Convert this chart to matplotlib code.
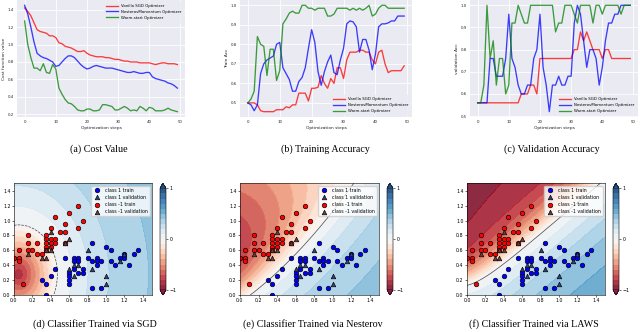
import numpy as np
import matplotlib
matplotlib.use("Agg")
import matplotlib.pyplot as plt

# ---------------- data: optimisation curves ----------------
steps = list(range(50))
labels_opt = ["Vanilla SGD Optimizer", "NesterovMomentum Optimizer", "Warm-start Optimizer"]

cost_sgd = [1.42, 1.38, 1.33, 1.25, 1.17, 1.15, 1.14, 1.13, 1.10, 1.10,
            1.08, 1.02, 1.01, 0.98, 0.97, 0.96, 0.94, 0.92, 0.92, 0.93,
            0.90, 0.88, 0.87, 0.86, 0.86, 0.86, 0.85, 0.85, 0.84, 0.83,
            0.83, 0.82, 0.81, 0.81, 0.80, 0.80, 0.80, 0.79, 0.79, 0.79,
            0.79, 0.78, 0.77, 0.78, 0.79, 0.79, 0.78, 0.78, 0.78, 0.77]
cost_nes = [1.45, 1.35, 1.20, 1.03, 0.90, 0.87, 0.85, 0.84, 0.82, 0.80,
            0.75, 0.76, 0.80, 0.84, 0.87, 0.87, 0.85, 0.81, 0.77, 0.74,
            0.72, 0.73, 0.75, 0.76, 0.75, 0.74, 0.73, 0.73, 0.73, 0.72,
            0.71, 0.70, 0.69, 0.68, 0.68, 0.69, 0.68, 0.67, 0.67, 0.68,
            0.68, 0.63, 0.61, 0.60, 0.59, 0.58, 0.56, 0.55, 0.53, 0.50]
cost_warm = [1.27, 1.00, 0.85, 0.73, 0.73, 0.70, 0.78, 0.68, 0.67, 0.77,
             0.72, 0.50, 0.43, 0.37, 0.33, 0.32, 0.29, 0.25, 0.24, 0.24,
             0.26, 0.26, 0.24, 0.24, 0.25, 0.31, 0.31, 0.30, 0.29, 0.25,
             0.25, 0.27, 0.29, 0.27, 0.24, 0.25, 0.24, 0.29, 0.27, 0.24,
             0.28, 0.27, 0.24, 0.24, 0.24, 0.25, 0.27, 0.25, 0.24, 0.23]

train_sgd = [0.50, 0.50, 0.50, 0.49, 0.46, 0.455, 0.455, 0.455, 0.455, 0.465,
             0.465, 0.465, 0.48, 0.475, 0.49, 0.49, 0.55, 0.55, 0.55, 0.51,
             0.575, 0.575, 0.58, 0.64, 0.60, 0.575, 0.625, 0.60, 0.68, 0.68,
             0.625, 0.72, 0.76, 0.76, 0.76, 0.77, 0.77, 0.76, 0.76, 0.72,
             0.70, 0.76, 0.77, 0.70, 0.655, 0.665, 0.665, 0.665, 0.665, 0.69]
train_nes = [0.50, 0.49, 0.46, 0.49, 0.65, 0.70, 0.72, 0.73, 0.74, 0.80,
             0.81, 0.68, 0.65, 0.62, 0.56, 0.56, 0.61, 0.63, 0.68, 0.78,
             0.875, 0.81, 0.66, 0.59, 0.66, 0.71, 0.745, 0.655, 0.645, 0.72,
             0.78, 0.905, 0.92, 0.915, 0.89, 0.76, 0.825, 0.825, 0.77, 0.67,
             0.75, 0.89, 0.905, 0.905, 0.91, 0.92, 0.92, 0.945, 0.945, 0.945]
train_warm = [0.50, 0.52, 0.56, 0.84, 0.80, 0.79, 0.64, 0.775, 0.775, 0.615,
              0.665, 0.905, 0.93, 0.96, 0.97, 0.96, 0.96, 1.00, 1.00, 0.985,
              0.985, 0.975, 0.985, 0.985, 0.985, 0.945, 0.945, 0.955, 0.985, 0.985,
              0.985, 0.985, 0.975, 0.985, 0.975, 0.985, 0.975, 0.985, 1.00, 0.945,
              0.955, 0.985, 1.00, 1.00, 0.985, 0.985, 0.985, 0.985, 0.985, 0.985]

val_sgd = [0.56, 0.56, 0.56, 0.56, 0.56, 0.56, 0.56, 0.56, 0.56, 0.56,
           0.56, 0.56, 0.56, 0.56, 0.60, 0.60, 0.60, 0.64, 0.64, 0.60,
           0.76, 0.76, 0.76, 0.76, 0.76, 0.76, 0.76, 0.76, 0.76, 0.76,
           0.76, 0.80, 0.80, 0.88, 0.84, 0.88, 0.84, 0.80, 0.80, 0.80,
           0.76, 0.80, 0.80, 0.76, 0.76, 0.76, 0.76, 0.76, 0.76, 0.76]
val_nes = [0.56, 0.56, 0.56, 0.56, 0.76, 0.76, 0.68, 0.68, 0.68, 0.76,
           0.96, 0.76, 0.72, 0.64, 0.60, 0.60, 0.64, 0.64, 0.76, 0.80,
           0.96, 0.72, 0.64, 0.52, 0.64, 0.64, 0.68, 0.64, 0.64, 0.68,
           0.68, 0.92, 1.00, 0.96, 0.84, 0.72, 0.80, 0.80, 0.76, 0.64,
           0.72, 0.84, 0.92, 0.92, 0.96, 0.96, 1.00, 1.00, 1.00, 1.00]
val_warm = [0.56, 0.56, 0.64, 1.00, 0.76, 0.84, 0.64, 0.76, 0.76, 0.60,
            0.64, 0.92, 0.92, 1.00, 0.96, 0.92, 0.92, 1.00, 1.00, 1.00,
            1.00, 1.00, 1.00, 1.00, 1.00, 0.88, 0.92, 0.92, 1.00, 1.00,
            1.00, 0.96, 0.92, 1.00, 1.00, 1.00, 1.00, 0.92, 1.00, 1.00,
            0.96, 1.00, 1.00, 1.00, 1.00, 1.00, 0.96, 1.00, 1.00, 1.00]

# ---------------- data: classification points ----------------
c1_train_x = [0.30, 0.35, 0.35, 0.40, 0.45, 0.55, 0.60, 0.60, 0.60, 0.60,
              0.65, 0.65, 0.65, 0.70, 0.70, 0.70, 0.75, 0.75, 0.80, 0.85,
              0.85, 0.85, 0.90, 0.90, 0.90, 0.95, 0.95, 1.00, 1.05, 1.05,
              1.10, 1.15, 1.20, 1.20, 1.25, 1.30, 1.35]
c1_train_y = [0.20, 0.15, 0.00, 0.25, 0.35, 0.50, 0.30, 0.25, 0.20, 0.15,
              0.50, 0.45, 0.35, 0.50, 0.45, 0.30, 0.35, 0.30, 0.50, 0.70,
              0.45, 0.10, 0.50, 0.45, 0.40, 0.45, 0.10, 0.65, 0.45, 0.60,
              0.40, 0.50, 0.55, 0.50, 0.40, 0.55, 0.60]
c1_val_x = [0.60, 0.65, 0.65, 0.70, 0.80, 0.85, 1.00, 1.00, 1.15, 1.20]
c1_val_y = [0.35, 0.25, 0.40, 0.40, 0.60, 0.35, 0.25, 0.15, 0.45, 0.55]
cm1_train_x = [0.00, 0.05, 0.05, 0.05, 0.10, 0.15, 0.15, 0.15, 0.20, 0.25,
               0.25, 0.30, 0.35, 0.35, 0.35, 0.35, 0.35, 0.40, 0.40, 0.40,
               0.40, 0.45, 0.45, 0.45, 0.50, 0.55, 0.55, 0.55, 0.60, 0.70,
               0.70, 0.75]
cm1_train_y = [0.50, 0.60, 0.50, 0.45, 0.15, 0.80, 0.70, 0.60, 0.60, 0.70,
               0.55, 0.55, 0.80, 0.75, 0.70, 0.65, 0.60, 0.90, 0.75, 0.70,
               0.65, 1.05, 0.75, 0.70, 0.85, 0.95, 0.85, 0.70, 1.10, 1.20,
               0.90, 1.00]
cm1_val_x = [0.15, 0.30, 0.35, 0.35, 0.40, 0.40, 0.55, 0.60]
cm1_val_y = [0.55, 0.50, 0.50, 0.60, 0.60, 0.85, 0.70, 0.75]

# ---------------- figure ----------------
fig = plt.figure(figsize=(6.4, 3.32), dpi=100)
W, H = 640.0, 332.0

def box(l, t, r, b):
    return [l / W, 1 - b / H, (r - l) / W, (b - t) / H]

def style_top(ax):
    ax.set_facecolor("#EAEAF2")
    ax.grid(True, color="white", lw=0.6)
    ax.set_axisbelow(True)
    for s in ax.spines.values():
        s.set_visible(False)
    ax.tick_params(length=0, labelsize=2.8, colors="#262626", pad=2)

line_colors = ["red", "blue", "green"]

def curves(ax, series, ylabel, loc):
    for ys, c, lab in zip(series, line_colors, labels_opt):
        ax.plot(steps, ys, color=c, alpha=0.75, lw=0.95, label=lab)
    style_top(ax)
    ax.set_xticks([0, 10, 20, 30, 40, 50])
    ax.set_xlabel("Optimization steps", fontsize=3.2, labelpad=1.5, color="#262626")
    ax.set_ylabel(ylabel, fontsize=3.2, labelpad=1.5, color="#262626")
    ax.legend(loc=loc, fontsize=2.8, frameon=True, facecolor="#EAEAF2",
              edgecolor="#EAEAF2", handlelength=3, borderpad=0.5)

ax_a = fig.add_axes(box(17, 0, 185, 117))
curves(ax_a, [cost_sgd, cost_nes, cost_warm], "Cost function value", "upper right")
ax_a.set_yticks([0.2, 0.4, 0.6, 0.8, 1.0, 1.2, 1.4])

ax_b = fig.add_axes(box(240, 0, 412, 117))
curves(ax_b, [train_sgd, train_nes, train_warm], "Train Acc", "lower right")

ax_c = fig.add_axes(box(470, 0, 638, 117))
curves(ax_c, [val_sgd, val_nes, val_warm], "validation Acc", "lower right")

# ---------------- decision fields ----------------
gx = np.linspace(0, 1.5, 300)
gy = np.linspace(0, 1.5, 300)
X, Y = np.meshgrid(gx, gy)

def field_sgd(x, y):
    rho = np.sqrt(((x - 0.05) / 0.42) ** 2 + ((y - 0.28) / 0.66) ** 2)
    return np.where(rho < 1, -0.88 * (1 - rho), 0.45 * np.tanh(0.6 * (rho - 1)))

def field_nes(x, y):
    b = 0.95 * (x - 0.11) + 0.35 * (x - 0.11) ** 2
    db = 0.95 + 0.7 * (x - 0.11)
    d = (y - b) / np.sqrt(1 + db ** 2)
    r = np.sqrt((x + 0.15) ** 2 + ((y - 0.4) / 1.6) ** 2)
    m_red = np.clip(0.95 - 0.55 * r, 0.05, 1)
    return np.where(d > 0, -np.tanh(3 * d) * m_red, 0.45 * np.tanh(-2 * d))

def field_laws(x, y):
    b = 0.13 + 1.05 * x - 0.15 * (1 - np.exp(-x / 0.2))
    db = 1.05 - 0.75 * np.exp(-x / 0.2)
    d = (y - b) / np.sqrt(1 + db ** 2)
    return np.where(d > 0, -0.92 * np.tanh(2.8 * d), 0.6 * np.tanh(-1.5 * d))

levels = np.linspace(-1, 1, 21)

def classifier(box_ax, box_cax, fld, dashed):
    ax = fig.add_axes(box_ax)
    cax = fig.add_axes(box_cax)
    Z = fld(X, Y)
    cs = ax.contourf(X, Y, Z, levels=levels, cmap="RdBu", alpha=0.85, extend="both")
    ax.contour(X, Y, Z, levels=[0], colors="k", linewidths=0.5,
               linestyles="--" if dashed else "-", alpha=0.7)
    kw = dict(s=11, edgecolors="k", linewidths=0.45)
    ax.scatter(c1_train_x, c1_train_y, c="blue", marker="o", label="class 1 train", **kw)
    ax.scatter(c1_val_x, c1_val_y, c="#33407a", marker="^", label="class 1 validation", **kw)
    ax.scatter(cm1_train_x, cm1_train_y, c="red", marker="o", label="class -1 train", **kw)
    ax.scatter(cm1_val_x, cm1_val_y, c="#6e3b40", marker="^", label="class -1 validation", **kw)
    ax.set_xlim(0, 1.5)
    ax.set_ylim(0, 1.5)
    ticks = np.arange(0, 1.41, 0.2)
    ax.set_xticks(ticks)
    ax.set_yticks(ticks)
    ax.set_xticklabels([f"{v:.1f}" for v in ticks])
    ax.set_yticklabels([f"{v:.1f}" for v in ticks])
    ax.tick_params(labelsize=3.4, length=1.5, width=0.4, pad=1)
    for s in ax.spines.values():
        s.set_linewidth(0.4)
    ax.legend(loc="upper right", fontsize=3.4, framealpha=0.8, borderpad=0.4,
              handletextpad=0.6, labelspacing=0.45, edgecolor="#cccccc")
    cb = fig.colorbar(cs, cax=cax, ticks=[-1, 0, 1])
    cb.ax.tick_params(labelsize=3.4, length=1.5, width=0.4, pad=1)
    cb.outline.set_linewidth(0.4)
    return ax

classifier(box(14, 183.3, 152, 295), box(160, 183.3, 166, 295), field_sgd, True)
classifier(box(240, 183.3, 379, 295), box(387, 183.3, 393, 295), field_nes, False)
classifier(box(467, 183.3, 605, 295), box(613, 183.3, 619, 295), field_laws, False)

# ---------------- captions ----------------
cap_kw = dict(ha="center", va="center", fontsize=7.2, family="Liberation Serif")
fig.text(99 / W, 1 - 149 / H, "(a) Cost Value", **cap_kw)
fig.text(325 / W, 1 - 149 / H, "(b) Training Accuracy", **cap_kw)
fig.text(552 / W, 1 - 149 / H, "(c) Validation Accuracy", **cap_kw)
fig.text(95 / W, 1 - 324 / H, "(d) Classifier Trained via SGD", **cap_kw)
fig.text(313 / W, 1 - 324 / H, "(e) Classifier Trained via Nesterov", **cap_kw)
fig.text(534 / W, 1 - 324 / H, "(f) Classifier Trained via LAWS", **cap_kw)

fig.savefig("out.png", dpi=100)
